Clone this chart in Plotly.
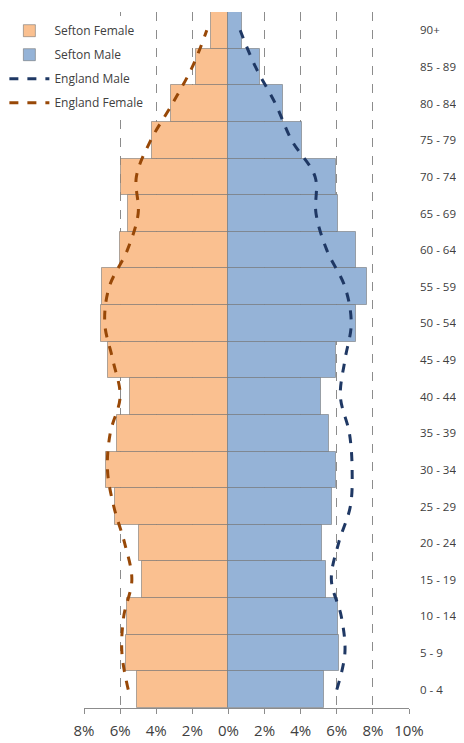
import plotly.graph_objects as go

age_groups = ["0 - 4", "5 - 9", "10 - 14", "15 - 19", "20 - 24", "25 - 29", "30 - 34",
              "35 - 39", "40 - 44", "45 - 49", "50 - 54", "55 - 59", "60 - 64",
              "65 - 69", "70 - 74", "75 - 79", "80 - 84", "85 - 89", "90+"]

sefton_female = [5.07, 5.69, 5.61, 4.8, 4.93, 6.3, 6.78, 6.17, 5.43, 6.66, 7.07, 7.0,
                 6.02, 5.56, 5.95, 4.25, 3.2, 1.8, 0.96]
sefton_male = [5.3, 6.13, 6.04, 5.38, 5.16, 5.71, 5.95, 5.58, 5.12, 5.98, 7.04, 7.65,
               7.04, 6.08, 5.98, 4.1, 3.0, 1.75, 0.75]
england_female = [5.55, 5.9, 5.8, 5.35, 5.75, 6.35, 6.7, 6.55, 6.0, 6.4, 6.85, 6.6,
                  5.6, 5.0, 5.1, 4.3, 3.1, 2.0, 1.2]
england_male = [6.0, 6.45, 6.25, 5.7, 6.1, 6.75, 6.85, 6.7, 6.2, 6.45, 6.8, 6.45,
                5.45, 4.85, 4.8, 3.5, 2.6, 1.5, 0.65]

x_tickvals = [-8, -6, -4, -2, 0, 2, 4, 6, 8, 10]
x_ticktext = ["8%", "6%", "4%", "2%", "0%", "2%", "4%", "6%", "8%", "10%"]

font_family = "'Open Sans', Lato, sans-serif"
text_color = "#404040"
border = "rgba(110,110,110,0.55)"

fig = go.Figure()
fig.add_trace(go.Bar(
    y=age_groups, x=[-v for v in sefton_female], orientation="h",
    name="Sefton Female", legendgroup="a",
    marker=dict(color="#FAC090", line=dict(color=border, width=1)),
))
fig.add_trace(go.Bar(
    y=age_groups, x=sefton_male, orientation="h",
    name="Sefton Male", legendgroup="b",
    marker=dict(color="#95B3D7", line=dict(color=border, width=1)),
))
fig.add_trace(go.Scatter(
    y=age_groups, x=england_male, mode="lines", name="England Male", legendgroup="c",
    line=dict(color="#1F3864", width=3, dash="dash", shape="spline"),
))
fig.add_trace(go.Scatter(
    y=age_groups, x=[-v for v in england_female], mode="lines", name="England Female",
    legendgroup="d",
    line=dict(color="#984807", width=3, dash="dash", shape="spline"),
))

fig.update_layout(
    width=456, height=735,
    margin=dict(l=76, r=55, t=4, b=35, autoexpand=False),
    paper_bgcolor="white", plot_bgcolor="white",
    barmode="overlay", bargap=0,
    font=dict(family=font_family, color=text_color),
    legend=dict(
        x=-0.245, y=0.994, xanchor="left", yanchor="top",
        bgcolor="white", font=dict(size=12, color=text_color),
        itemwidth=40, traceorder="grouped", tracegroupgap=5,
    ),
    xaxis=dict(
        range=[-8, 10], tickvals=x_tickvals, ticktext=x_ticktext,
        showgrid=True, gridcolor="#8c8c8c", griddash="dash", gridwidth=1,
        zeroline=False, showline=True, linecolor="#8c8c8c", linewidth=1,
        ticks="outside", ticklen=5, tickcolor="#8c8c8c",
        ticklabelstandoff=4,
        tickfont=dict(size=15, color=text_color), fixedrange=True,
        automargin=False,
    ),
    yaxis=dict(
        categoryorder="array", categoryarray=age_groups, side="right",
        range=[-0.5, 18.5],
        showgrid=False, zeroline=False, showline=False, ticks="",
        ticklabelstandoff=10, automargin=False,
        tickfont=dict(size=11.5, color=text_color), fixedrange=True,
    ),
)

fig.write_html("out.html")
